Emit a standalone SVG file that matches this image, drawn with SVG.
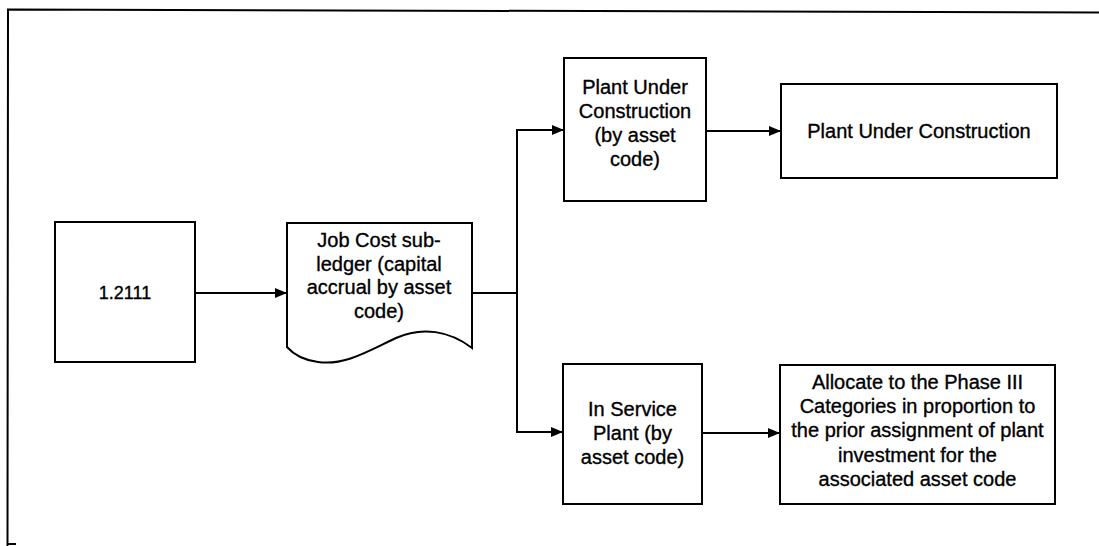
<svg xmlns="http://www.w3.org/2000/svg" width="1099" height="546" viewBox="0 0 1099 546">
<style>
.box{fill:#fff;stroke:#000;stroke-width:2}
.lbl{font-family:"Liberation Sans",Arial,sans-serif;font-size:20px;fill:#000;stroke:#000;stroke-width:0.35;text-anchor:middle}
.conn{fill:none;stroke:#000;stroke-width:2}
.frame{fill:none;stroke:#000;stroke-width:2}
</style>
<defs>
<marker id="arr" markerUnits="userSpaceOnUse" markerWidth="13" markerHeight="11" refX="12" refY="5.5" orient="auto">
<path d="M0,0.5 L12,5.5 L0,10.5 Z" fill="#000"/>
</marker>
</defs>
<rect width="1099" height="546" fill="#fff"/>
<path class="frame" d="M1099,12.5 L8,9.5 L7.5,546"/>
<path class="frame" d="M7.5,544 L16,544"/>
<g id="connectors">
<line class="conn" x1="195" y1="293" x2="287" y2="293" stroke-width="3" marker-end="url(#arr)"/>
<polyline class="conn" points="472,293 517,293"/>
<polyline class="conn" points="517,293 517,130 564,130" marker-end="url(#arr)"/>
<polyline class="conn" points="517,293 517,432 563,432" marker-end="url(#arr)"/>
<line class="conn" x1="706" y1="131" x2="781" y2="131" stroke-width="2.5" marker-end="url(#arr)"/>
<line class="conn" x1="702" y1="433" x2="780" y2="433" marker-end="url(#arr)"/>
</g>
<g id="node-1-2111">
<rect class="box" x="55" y="222" width="140" height="140"/>
<text class="lbl" x="125" y="299" style="font-size:18px">1.2111</text>
</g>
<g id="node-job-cost">
<path class="box" d="M287,223 L472,223 L472,348 C450,331 422,326 396,338 C370,350 345,366 318,362 C303,360 294,355 287,347 Z"/>
<text class="lbl" x="379" y="247">Job Cost sub-</text>
<text class="lbl" x="379" y="270.5">ledger (capital</text>
<text class="lbl" x="379" y="294">accrual by asset</text>
<text class="lbl" x="379" y="317.5">code)</text>
</g>
<g id="node-puc-asset">
<rect class="box" x="564" y="58" width="142" height="143"/>
<text class="lbl" x="635" y="94">Plant Under</text>
<text class="lbl" x="635" y="118">Construction</text>
<text class="lbl" x="635" y="142">(by asset</text>
<text class="lbl" x="635" y="166">code)</text>
</g>
<g id="node-puc">
<rect class="box" x="781" y="84" width="276" height="94"/>
<text class="lbl" x="919" y="138">Plant Under Construction</text>
</g>
<g id="node-in-service">
<rect class="box" x="563" y="364" width="139" height="140"/>
<text class="lbl" x="632.5" y="416">In Service</text>
<text class="lbl" x="632.5" y="440">Plant (by</text>
<text class="lbl" x="632.5" y="464">asset code)</text>
</g>
<g id="node-allocate">
<rect class="box" x="780" y="365" width="275" height="139"/>
<text class="lbl" x="917.5" y="389">Allocate to the Phase III</text>
<text class="lbl" x="917.5" y="413">Categories in proportion to</text>
<text class="lbl" x="917.5" y="437">the prior assignment of plant</text>
<text class="lbl" x="917.5" y="461.5">investment for the</text>
<text class="lbl" x="917.5" y="486">associated asset code</text>
</g>
</svg>
